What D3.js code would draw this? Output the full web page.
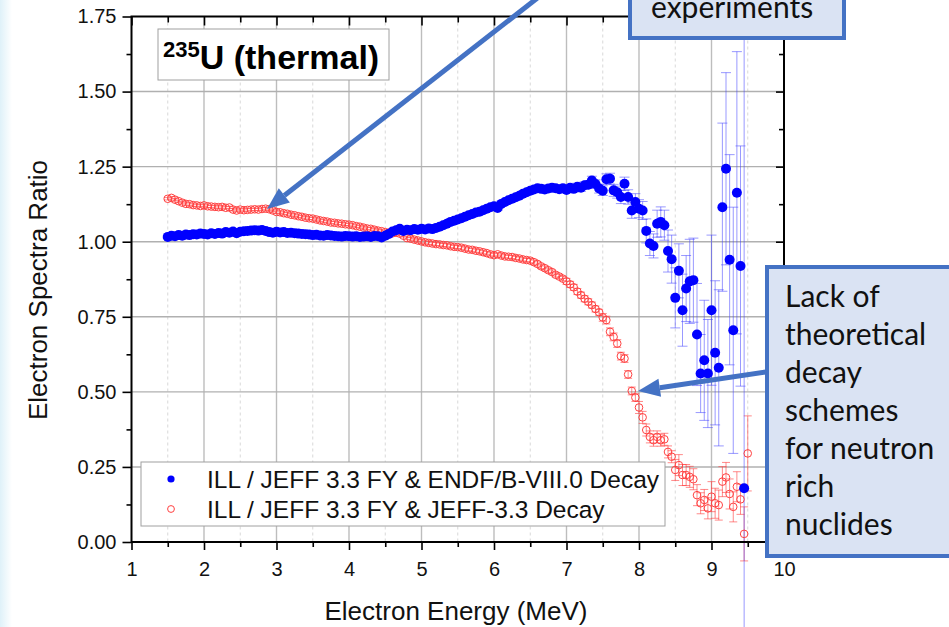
<!DOCTYPE html>
<html>
<head>
<meta charset="utf-8">
<script src="https://cdn.jsdelivr.net/npm/d3@7"></script>
<style>
  html, body { margin: 0; padding: 0; background: #fff; }
  svg { display: block; }
</style>
</head>
<body>
<svg id="chart" width="949" height="627"></svg>
<script>
// electron energy bins (MeV)
var energy = [1.50,1.55,1.60,1.65,1.70,1.75,1.80,1.85,1.90,1.95,2.00,2.05,2.10,2.15,2.20,2.25,2.30,2.35,2.40,2.45,
  2.50,2.55,2.60,2.65,2.70,2.75,2.80,2.85,2.90,2.95,3.00,3.05,3.10,3.15,3.20,3.25,3.30,3.35,3.40,3.45,
  3.50,3.55,3.60,3.65,3.70,3.75,3.80,3.85,3.90,3.95,4.00,4.05,4.10,4.15,4.20,4.25,4.30,4.35,4.40,4.45,
  4.50,4.55,4.60,4.65,4.70,4.75,4.80,4.85,4.90,4.95,5.00,5.05,5.10,5.15,5.20,5.25,5.30,5.35,5.40,5.45,
  5.50,5.55,5.60,5.65,5.70,5.75,5.80,5.85,5.90,5.95,6.00,6.05,6.10,6.15,6.20,6.25,6.30,6.35,6.40,6.45,
  6.50,6.55,6.60,6.65,6.70,6.75,6.80,6.85,6.90,6.95,7.00,7.05,7.10,7.15,7.20,7.25,7.30,7.35,7.40,7.45,
  7.50,7.55,7.60,7.65,7.70,7.75,7.80,7.85,7.90,7.95,8.00,8.05,8.10,8.15,8.20,8.25,8.30,8.35,8.40,8.45,
  8.50,8.55,8.60,8.65,8.70,8.75,8.80,8.85,8.90,8.95,9.00,9.05,9.10,9.15,9.20,9.25,9.30,9.35,9.40,9.45,9.50];

// ILL / JEFF 3.3 FY & ENDF/B-VIII.0 Decay (last bin 9.50 has no point)
var endfRatio = [1.016,1.020,1.018,1.022,1.020,1.024,1.022,1.025,1.024,1.027,1.026,1.024,1.028,1.026,1.029,1.027,1.032,1.030,1.034,1.028,
  1.033,1.035,1.036,1.037,1.038,1.037,1.039,1.036,1.032,1.030,1.033,1.031,1.032,1.029,1.030,1.028,1.027,1.026,1.025,1.024,
  1.022,1.023,1.021,1.020,1.022,1.021,1.019,1.018,1.017,1.019,1.018,1.017,1.018,1.016,1.017,1.018,1.016,1.019,1.018,1.014,
  1.020,1.026,1.034,1.038,1.043,1.036,1.040,1.038,1.042,1.040,1.043,1.041,1.044,1.042,1.046,1.050,1.055,1.060,1.066,1.070,
  1.074,1.078,1.083,1.088,1.092,1.097,1.100,1.105,1.110,1.115,1.118,1.112,1.126,1.132,1.138,1.143,1.148,1.153,1.160,1.165,
  1.170,1.174,1.178,1.176,1.174,1.177,1.180,1.178,1.175,1.178,1.172,1.180,1.176,1.183,1.180,1.188,1.190,1.204,1.192,1.177,
  1.170,1.208,1.210,1.171,1.165,1.149,1.193,1.149,1.104,1.132,1.110,1.104,1.036,0.994,0.986,1.060,1.066,1.055,0.969,0.942,
  0.813,0.903,0.772,0.844,0.868,0.872,0.691,0.561,0.605,0.561,0.772,0.630,0.580,1.115,1.243,0.940,0.705,1.163,0.919,0.179,null];
var endfError = [0.004,0.004,0.004,0.004,0.004,0.004,0.004,0.004,0.004,0.004,0.004,0.004,0.004,0.004,0.004,0.004,0.004,0.004,0.004,0.004,
  0.004,0.004,0.004,0.004,0.004,0.004,0.004,0.004,0.004,0.004,0.004,0.004,0.004,0.004,0.004,0.004,0.004,0.004,0.004,0.004,
  0.004,0.004,0.004,0.004,0.004,0.004,0.004,0.004,0.004,0.004,0.004,0.004,0.004,0.004,0.004,0.004,0.004,0.004,0.004,0.004,
  0.004,0.004,0.004,0.004,0.005,0.005,0.005,0.005,0.005,0.005,0.006,0.006,0.006,0.006,0.006,0.006,0.006,0.006,0.006,0.006,
  0.006,0.006,0.006,0.006,0.006,0.006,0.006,0.006,0.006,0.006,0.007,0.007,0.007,0.007,0.007,0.007,0.007,0.007,0.008,0.008,
  0.008,0.008,0.008,0.008,0.009,0.009,0.009,0.009,0.010,0.010,0.010,0.011,0.011,0.012,0.012,0.012,0.013,0.014,0.014,0.015,
  0.016,0.018,0.018,0.020,0.020,0.022,0.022,0.024,0.026,0.028,0.030,0.030,0.040,0.040,0.040,0.045,0.050,0.050,0.070,0.080,
  0.100,0.090,0.120,0.110,0.140,0.140,0.170,0.130,0.200,0.180,0.250,0.240,0.260,0.280,0.320,0.350,0.410,0.470,0.400,1.600,null];

// ILL / JEFF 3.3 FY & JEFF-3.3 Decay
var jeffRatio = [1.143,1.146,1.140,1.135,1.130,1.126,1.125,1.122,1.121,1.119,1.121,1.118,1.117,1.116,1.115,1.116,1.113,1.114,1.107,1.104,
  1.107,1.105,1.106,1.107,1.108,1.107,1.109,1.110,1.108,1.104,1.099,1.098,1.095,1.093,1.090,1.088,1.085,1.083,1.080,1.078,
  1.077,1.074,1.071,1.069,1.067,1.064,1.063,1.061,1.060,1.058,1.057,1.055,1.052,1.050,1.047,1.044,1.043,1.040,1.037,1.035,
  1.032,1.030,1.028,1.030,1.027,1.020,1.012,1.010,1.007,1.004,1.001,0.998,0.996,0.994,0.992,0.991,0.989,0.988,0.985,0.983,
  0.982,0.980,0.977,0.974,0.973,0.970,0.968,0.965,0.962,0.958,0.955,0.958,0.954,0.951,0.950,0.949,0.946,0.944,0.941,0.939,
  0.937,0.932,0.926,0.918,0.912,0.905,0.899,0.890,0.884,0.877,0.868,0.858,0.848,0.834,0.822,0.810,0.800,0.789,0.776,0.765,
  0.748,0.739,0.700,0.683,0.661,0.619,0.611,0.558,0.503,0.481,0.448,0.415,0.373,0.350,0.339,0.350,0.339,0.342,0.300,0.284,
  0.240,0.256,0.223,0.223,0.217,0.209,0.156,0.129,0.140,0.112,0.151,0.129,0.123,0.201,0.215,0.160,0.117,0.184,0.142,0.027,0.295];
var jeffError = [0.004,0.004,0.004,0.004,0.004,0.004,0.004,0.004,0.004,0.004,0.004,0.004,0.004,0.004,0.004,0.004,0.004,0.004,0.004,0.004,
  0.004,0.004,0.004,0.004,0.004,0.004,0.004,0.004,0.004,0.004,0.004,0.004,0.004,0.004,0.004,0.004,0.004,0.004,0.004,0.004,
  0.004,0.004,0.004,0.004,0.004,0.004,0.004,0.004,0.004,0.004,0.004,0.004,0.004,0.004,0.004,0.004,0.004,0.004,0.004,0.004,
  0.004,0.004,0.004,0.004,0.004,0.004,0.004,0.004,0.004,0.004,0.005,0.005,0.005,0.005,0.005,0.005,0.005,0.005,0.005,0.005,
  0.005,0.005,0.005,0.005,0.005,0.005,0.005,0.005,0.005,0.005,0.005,0.005,0.005,0.005,0.005,0.005,0.005,0.005,0.005,0.005,
  0.007,0.007,0.007,0.007,0.007,0.007,0.007,0.007,0.007,0.007,0.010,0.010,0.010,0.010,0.010,0.010,0.010,0.010,0.010,0.010,
  0.013,0.013,0.013,0.013,0.013,0.013,0.013,0.013,0.013,0.013,0.020,0.020,0.020,0.020,0.020,0.020,0.020,0.020,0.020,0.020,
  0.035,0.035,0.035,0.035,0.035,0.035,0.035,0.035,0.035,0.035,0.050,0.050,0.050,0.050,0.050,0.050,0.050,0.050,0.050,0.090,0.125];

var xTicks = [1,2,3,4,5,6,7,8,9,10];
var yTicks = [0,0.25,0.5,0.75,1.0,1.25,1.5,1.75];
var legendLabels = ["ILL / JEFF 3.3 FY & ENDF/B-VIII.0 Decay", "ILL / JEFF 3.3 FY & JEFF-3.3 Decay"];
var calloutLines = ["Lack of", "theoretical", "decay", "schemes", "for neutron", "rich", "nuclides"];

var svg = d3.select("#chart");
var W = 949, H = 627;
var pl = 131.5, pr = 784, pt = 16.5, pb = 542;

// slide background strip on the left edge
var grad = svg.append("defs").append("linearGradient").attr("id", "edge");
grad.append("stop").attr("offset", "0%").attr("stop-color", "#dff1f9");
grad.append("stop").attr("offset", "100%").attr("stop-color", "#ffffff");
svg.append("rect").attr("x", 0).attr("y", 0).attr("width", 12).attr("height", H).attr("fill", "url(#edge)");

var x = d3.scaleLinear().domain([1, 10]).range([pl, pr]);
var y = d3.scaleLinear().domain([0, 1.75]).range([pb, pt]);

// grid
var grid = svg.append("g");
var xMinor = d3.range(1.5, 10, 1);
grid.selectAll(".xm").data(xMinor).enter().append("line")
  .attr("x1", d => x(d)).attr("x2", d => x(d)).attr("y1", pt).attr("y2", pb)
  .attr("stroke", "#cfcfcf").attr("stroke-width", 0.8).attr("stroke-dasharray", "3,3");
grid.selectAll(".xg").data(xTicks.slice(1, -1)).enter().append("line")
  .attr("x1", d => x(d)).attr("x2", d => x(d)).attr("y1", pt).attr("y2", pb)
  .attr("stroke", "#bdbdbd").attr("stroke-width", 1.4);
grid.selectAll(".yg").data(yTicks.slice(1, -1)).enter().append("line")
  .attr("x1", pl).attr("x2", pr).attr("y1", d => y(d)).attr("y2", d => y(d))
  .attr("stroke", "#b0b0b0").attr("stroke-width", 1.4);

function series(vals, errs) {
  return energy.map((e, i) => ({e: e, v: vals[i], s: errs[i]})).filter(d => d.v != null);
}
var endf = series(endfRatio, endfError);
var jeff = series(jeffRatio, jeffError);

function errorBars(g, data, color, cap) {
  var eb = g.selectAll("g").data(data).enter().append("g")
    .attr("stroke", color).attr("stroke-width", 1);
  eb.append("line").attr("x1", d => x(d.e)).attr("x2", d => x(d.e))
    .attr("y1", d => y(d.v - d.s)).attr("y2", d => y(d.v + d.s));
  eb.append("line").attr("x1", d => x(d.e) - cap).attr("x2", d => x(d.e) + cap)
    .attr("y1", d => y(d.v + d.s)).attr("y2", d => y(d.v + d.s));
  eb.append("line").attr("x1", d => x(d.e) - cap).attr("x2", d => x(d.e) + cap)
    .attr("y1", d => y(d.v - d.s)).attr("y2", d => y(d.v - d.s));
}

errorBars(svg.append("g"), jeff, "rgba(255,60,60,0.6)", 4);
errorBars(svg.append("g"), endf, "rgba(70,70,255,0.55)", 5);

svg.append("g").selectAll("circle").data(jeff).enter().append("circle")
  .attr("cx", d => x(d.e)).attr("cy", d => y(d.v)).attr("r", 3.8)
  .attr("fill", "none").attr("stroke", "#ff4040").attr("stroke-width", 1);
svg.append("g").selectAll("circle").data(endf).enter().append("circle")
  .attr("cx", d => x(d.e)).attr("cy", d => y(d.v)).attr("r", 5)
  .attr("fill", "#0000ff");

// axes
var font = "'Liberation Sans', Arial, sans-serif";
function styleAxis(g) {
  g.select(".domain").remove();
  g.selectAll("line").attr("stroke", "#000").attr("stroke-width", 1.6);
  g.selectAll("text").attr("font-family", font).attr("font-size", 20).attr("fill", "#111");
}
var xAxis = svg.append("g").attr("transform", "translate(0," + pb + ")")
  .call(d3.axisBottom(x).tickValues(xTicks).tickSize(8).tickPadding(12).tickFormat(d3.format("d")));
styleAxis(xAxis);
var xAxisMinor = svg.append("g").attr("transform", "translate(0," + pb + ")")
  .call(d3.axisBottom(x).tickValues(xMinor).tickSize(5).tickFormat(""));
styleAxis(xAxisMinor);
var xTop = svg.append("g").attr("transform", "translate(0," + pt + ")")
  .call(d3.axisBottom(x).tickValues(xTicks).tickSize(9).tickFormat(""));
styleAxis(xTop);
var xTopMinor = svg.append("g").attr("transform", "translate(0," + pt + ")")
  .call(d3.axisBottom(x).tickValues(xMinor).tickSize(6).tickFormat(""));
styleAxis(xTopMinor);

var yMinor = d3.range(0.125, 1.75, 0.25);
var yAxis = svg.append("g").attr("transform", "translate(" + pl + ",0)")
  .call(d3.axisLeft(y).tickValues(yTicks).tickSize(9).tickPadding(6).tickFormat(d3.format(".2f")));
styleAxis(yAxis);
var yAxisMinor = svg.append("g").attr("transform", "translate(" + pl + ",0)")
  .call(d3.axisLeft(y).tickValues(yMinor).tickSize(5).tickFormat(""));
styleAxis(yAxisMinor);
var yRight = svg.append("g").attr("transform", "translate(" + pr + ",0)")
  .call(d3.axisLeft(y).tickValues(yTicks).tickSize(8).tickFormat(""));
styleAxis(yRight);
var yRightMinor = svg.append("g").attr("transform", "translate(" + pr + ",0)")
  .call(d3.axisLeft(y).tickValues(yMinor).tickSize(5).tickFormat(""));
styleAxis(yRightMinor);

svg.append("rect").attr("x", pl).attr("y", pt).attr("width", pr - pl).attr("height", pb - pt)
  .attr("fill", "none").attr("stroke", "#000").attr("stroke-width", 2);

svg.append("text").attr("x", 456).attr("y", 620).attr("text-anchor", "middle")
  .attr("font-family", font).attr("font-size", 26).attr("fill", "#111").text("Electron Energy (MeV)");
svg.append("text").attr("transform", "translate(47,290) rotate(-90)").attr("text-anchor", "middle")
  .attr("font-family", font).attr("font-size", 26).attr("fill", "#111").text("Electron Spectra Ratio");

// title box
svg.append("rect").attr("x", 158).attr("y", 29).attr("width", 231).attr("height", 51)
  .attr("fill", "#fff").attr("stroke", "#a0a0a0").attr("stroke-width", 1);
var title = svg.append("text").attr("x", 163).attr("y", 69).attr("font-family", font)
  .attr("font-weight", "bold").attr("fill", "#000");
title.append("tspan").attr("font-size", 22).attr("dy", -12).text("235");
title.append("tspan").attr("font-size", 34).attr("dy", 12).text("U (thermal)");

// legend
var lg = svg.append("g");
lg.append("rect").attr("x", 141).attr("y", 462).attr("width", 524).attr("height", 64)
  .attr("fill", "#fff").attr("stroke", "#a0a0a0").attr("stroke-width", 1);
lg.append("circle").attr("cx", 171).attr("cy", 479).attr("r", 3.6).attr("fill", "#0000ff");
lg.append("circle").attr("cx", 171).attr("cy", 509).attr("r", 3.4).attr("fill", "none")
  .attr("stroke", "#ff4040").attr("stroke-width", 1);
lg.selectAll("text.l").data(legendLabels).enter().append("text")
  .attr("x", 207).attr("y", (d, i) => 488 + i * 30)
  .attr("font-family", font).attr("font-size", 24.5).attr("fill", "#111").text(d => d);

// callouts
var blue = "#4472c4", calloutFont = "Lato, 'Open Sans', sans-serif";
function arrow(x1, y1, x2, y2) {
  var a = Math.atan2(y2 - y1, x2 - x1), L = 22, w = 9;
  var bx = x2 - L * Math.cos(a), by = y2 - L * Math.sin(a);
  svg.append("line").attr("x1", x1).attr("y1", y1).attr("x2", bx).attr("y2", by)
    .attr("stroke", blue).attr("stroke-width", 5);
  svg.append("path").attr("fill", blue).attr("d",
    "M" + x2 + "," + y2 +
    "L" + (bx + w * Math.sin(a)) + "," + (by - w * Math.cos(a)) +
    "L" + (bx - w * Math.sin(a)) + "," + (by + w * Math.cos(a)) + "Z");
}

svg.append("rect").attr("x", 630).attr("y", -10).attr("width", 214).attr("height", 48)
  .attr("fill", "#dae3f3").attr("stroke", blue).attr("stroke-width", 4);
svg.append("text").attr("x", 651).attr("y", 18).attr("font-family", calloutFont)
  .attr("font-size", 30).attr("fill", "#111").text("experiments");
arrow(540, -4, 267, 209);

svg.append("rect").attr("x", 767).attr("y", 267).attr("width", 200).attr("height", 289)
  .attr("fill", "#dae3f3").attr("stroke", blue).attr("stroke-width", 4);
svg.selectAll("text.c").data(calloutLines).enter().append("text")
  .attr("x", 785).attr("y", (d, i) => 307 + i * 38)
  .attr("font-family", calloutFont).attr("font-size", 30).attr("fill", "#111").text(d => d);
arrow(766, 372, 638, 391);
</script>
</body>
</html>
